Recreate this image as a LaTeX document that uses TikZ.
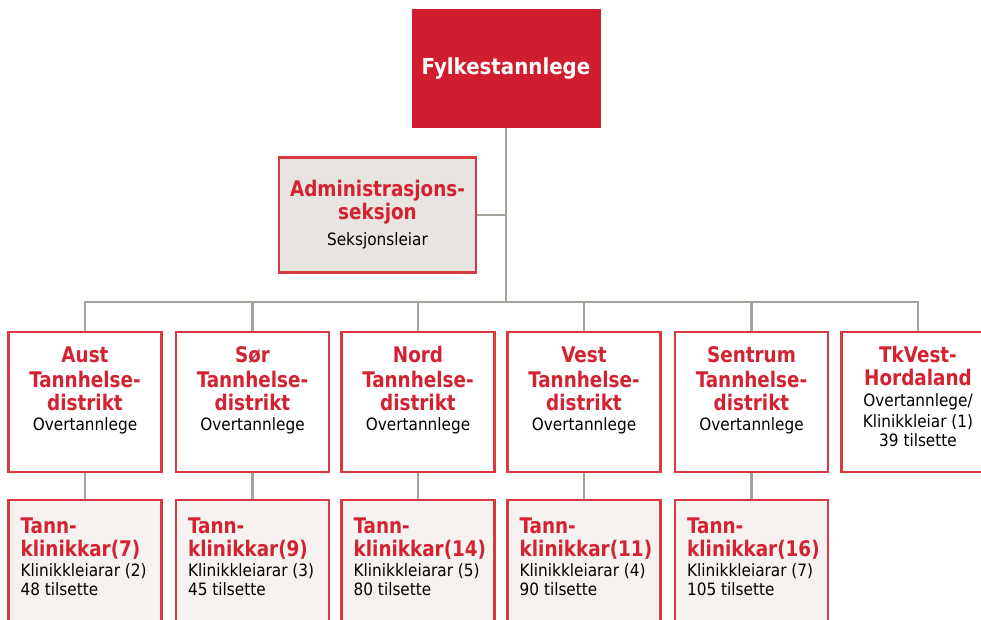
\documentclass[tikz,border=0pt]{standalone}
\usepackage{fontspec}
\setmainfont{DejaVu Sans Condensed}
\newfontfamily\ttlfam[FakeStretch=0.95]{DejaVu Sans Condensed}
\usetikzlibrary{backgrounds}
\definecolor{orgred}{HTML}{D01E2E}
\definecolor{edgered}{HTML}{D83A40}
\definecolor{txtred}{HTML}{D32232}
\definecolor{linegrey}{HTML}{A8A29C}
\definecolor{admfill}{HTML}{E8E4E0}
\definecolor{klinfill}{HTML}{F5F2EF}
\newcommand{\tf}{\ttlfam\fontsize{21.5}{24}\selectfont\bfseries\color{txtred}}
\newcommand{\sfnt}{\fontsize{17}{19}\selectfont\mdseries\color{black}}
\begin{document}
\begin{tikzpicture}[x=1pt,y=-1pt,
  box/.style={draw=edgered,line width=2.4pt,inner sep=0pt,outer sep=0pt,minimum width=153pt,minimum height=140pt},
  topbox/.style={fill=orgred,draw=orgred,inner sep=0pt,outer sep=0pt,minimum width=188pt,minimum height=118pt,text=white,font=\fontsize{22}{24}\selectfont\bfseries},
  admbox/.style={box,fill=admfill,minimum width=197pt,minimum height=115pt,align=center,font=\fontsize{21.5}{23}\selectfont},
  distbox/.style={box,fill=white},
  klinbox/.style={box,fill=klinfill,minimum height=150pt},
  disttext/.style={anchor=north,align=center,inner sep=0pt,font=\fontsize{21.5}{24}\selectfont},
  klintext/.style={anchor=north west,align=left,inner sep=0pt,font=\fontsize{21.5}{23}\selectfont},
  conn/.style={draw=linegrey,line width=2.6pt}]
\useasboundingbox (0,0) rectangle (981,619);
\clip (0,0) rectangle (981,619);

\coordinate (busL) at (85,302);
\coordinate (busR) at (918,302);

\node[topbox] (fyl) at (506,68.5) {Fylkestannlege};
\node[admbox] (adm) at (377.5,215) {{\tf Administrasjons-}\\[0pt]{\tf seksjon}\\[3pt]{\sfnt Seksjonsleiar}};

\node[distbox] (d1) at (85,402) {};
\node[distbox] (d2) at (252.5,402) {};
\node[distbox] (d3) at (418,402) {};
\node[distbox] (d4) at (584,402) {};
\node[distbox] (d5) at (751.5,402) {};
\node[distbox] (d6) at (918,402) {};

\node[klinbox] (k1) at (85,575) {};
\node[klinbox] (k2) at (252.5,575) {};
\node[klinbox] (k3) at (418,575) {};
\node[klinbox] (k4) at (584,575) {};
\node[klinbox] (k5) at (751.5,575) {};

\begin{scope}[on background layer]
\path[conn] (fyl.south) -- (fyl.south |- busL);
\path[conn] (adm.east) -- (adm.east -| fyl.south);
\path[conn] ([xshift=-1.3pt]busL) -- ([xshift=1.3pt]busR);
\foreach \d in {d1,d2,d3,d4,d5,d6}{
  \path[conn] (\d.north) -- (\d.north |- busL);
}
\foreach \d/\k in {d1/k1,d2/k2,d3/k3,d4/k4,d5/k5}{
  \path[conn] (\d.south) -- (\k.north);
}
\end{scope}

\node[disttext] (t1) at ([yshift=-14.3pt]d1.north) {{\tf Aust}\\[1pt]{\tf Tannhelse-}\\[-1pt]{\tf distrikt}\\[-4pt]{\sfnt Overtannlege}};
\node[disttext] (t2) at ([yshift=-14.3pt]d2.north) {{\tf Sør}\\[1pt]{\tf Tannhelse-}\\[-1pt]{\tf distrikt}\\[-4pt]{\sfnt Overtannlege}};
\node[disttext] (t3) at ([yshift=-14.3pt]d3.north) {{\tf Nord}\\[1pt]{\tf Tannhelse-}\\[-1pt]{\tf distrikt}\\[-4pt]{\sfnt Overtannlege}};
\node[disttext] (t4) at ([yshift=-14.3pt]d4.north) {{\tf Vest}\\[1pt]{\tf Tannhelse-}\\[-1pt]{\tf distrikt}\\[-4pt]{\sfnt Overtannlege}};
\node[disttext] (t5) at ([yshift=-14.3pt]d5.north) {{\tf Sentrum}\\[1pt]{\tf Tannhelse-}\\[-1pt]{\tf distrikt}\\[-4pt]{\sfnt Overtannlege}};
\node[disttext] (t6) at ([yshift=-14.3pt]d6.north) {{\tf TkVest-}\\[-1pt]{\tf Hordaland}\\[-3pt]{\sfnt Overtannlege/}\\[-3pt]{\sfnt Klinikkleiar (1)}\\[-5pt]{\sfnt 39 tilsette}};

\node[klintext] (u1) at ([xshift=12pt,yshift=-17.3pt]k1.north west) {{\tf Tann-}\\{\tf klinikkar(7)}\\[-3pt]{\sfnt Klinikkleiarar (2)}\\[-4pt]{\sfnt 48 tilsette}};
\node[klintext] (u2) at ([xshift=12pt,yshift=-17.3pt]k2.north west) {{\tf Tann-}\\{\tf klinikkar(9)}\\[-3pt]{\sfnt Klinikkleiarar (3)}\\[-4pt]{\sfnt 45 tilsette}};
\node[klintext] (u3) at ([xshift=12pt,yshift=-17.3pt]k3.north west) {{\tf Tann-}\\{\tf klinikkar(14)}\\[-3pt]{\sfnt Klinikkleiarar (5)}\\[-4pt]{\sfnt 80 tilsette}};
\node[klintext] (u4) at ([xshift=12pt,yshift=-17.3pt]k4.north west) {{\tf Tann-}\\{\tf klinikkar(11)}\\[-3pt]{\sfnt Klinikkleiarar (4)}\\[-4pt]{\sfnt 90 tilsette}};
\node[klintext] (u5) at ([xshift=12pt,yshift=-17.3pt]k5.north west) {{\tf Tann-}\\{\tf klinikkar(16)}\\[-3pt]{\sfnt Klinikkleiarar (7)}\\[-4pt]{\sfnt 105 tilsette}};
\end{tikzpicture}
\end{document}
